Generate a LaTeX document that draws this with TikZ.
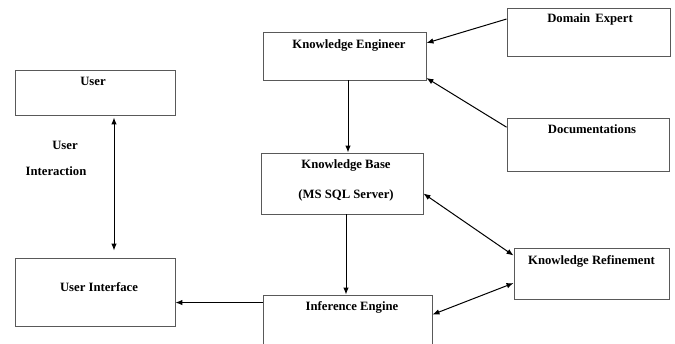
\documentclass[tikz,border=0pt]{standalone}
\usepackage{fontspec}
\setmainfont{Liberation Serif}
\usetikzlibrary{positioning,arrows.meta}
\tikzset{
  >={Latex[length=7pt,width=5.5pt]},
}
\tikzstyle{box}=[draw=black!65,line width=0.9pt,inner sep=0pt]
\tikzstyle{lbl}=[inner sep=0pt,text height=0.7em,text depth=0.22em,font=\fontsize{12.7}{15}\selectfont\bfseries]
\tikzstyle{link}=[line width=1pt,->]

\begin{document}
\begin{tikzpicture}[x=1pt,y=-1pt]
    \useasboundingbox (0,0) rectangle (675,344);
    % boxes
    \node[box,minimum width=160,minimum height=45] (user) at (95,92.5) {};
    \node[box,minimum width=160,minimum height=68] (ui) at (95,292) {};
    \node[box,minimum width=163,minimum height=48] (ke) at (344.5,56) {};
    \node[box,minimum width=162,minimum height=61] (kb) at (342,183.5) {};
    \node[box,minimum width=169,minimum height=80] (ie) at (347.5,335) {};
    \node[box,minimum width=163,minimum height=48] (de) at (588.5,32) {};
    \node[box,minimum width=162,minimum height=53] (doc) at (588,144.5) {};
    \node[box,minimum width=155,minimum height=51] (kr) at (591.5,273.5) {};
    % texts
    \node[lbl,below=8.5pt of user.north,xshift=-2pt] (user-t) {User};
    \node[lbl,below=26.5pt of ui.north,xshift=4pt] (ui-t) {User Interface};
    \node[lbl,below=9.5pt of ke.north,xshift=4.5pt] (ke-t) {Knowledge Engineer};
    \node[lbl,below=8.5pt of kb.north,xshift=4pt] (kb-t) {Knowledge Base};
    \node[lbl,below=30pt of kb-t.north] (kb-s) {(MS SQL Server)};
    \node[lbl,below=8.5pt of ie.north,xshift=4.5pt] (ie-t) {Inference Engine};
    \node[lbl,below=7.5pt of de.north,xshift=1.5pt] (de-t) {Domain\hspace{0.4em}Expert};
    \node[lbl,below=8.5pt of doc.north,xshift=4pt] (doc-t) {Documentations};
    \node[lbl,below=9.5pt of kr.north] (kr-t) {Knowledge Refinement};
    \node[lbl] (ia-a) at (65,147) {User};
    \node[lbl] (ia-b) at (56,173) {Interaction};
    % arrows
    \draw[link] (de.171) -- (ke.9);
    \draw[link] (doc.168) -- (ke.-15);
    \draw[link] ([xshift=3.5pt]ke.south) -- ([xshift=3.5pt]ke.south |- kb.north);
    \draw[link] ([xshift=4pt]kb.south) -- ([xshift=4pt]kb.south |- ie.north);
    \draw[link] ([yshift=-8pt]ie.north west) -- ([yshift=-8pt]ie.north west -| ui.east);
    \draw[link,<->] (kb.-7) -- (kr.167);
    \draw[link,<->] ([yshift=-20pt]ie.north east) -- (kr.187);
    \draw[link,<->,shorten <=2pt,shorten >=7pt] ([xshift=19pt]user.south) -- ([xshift=19pt]user.south |- ui.north);
\end{tikzpicture}
\end{document}
